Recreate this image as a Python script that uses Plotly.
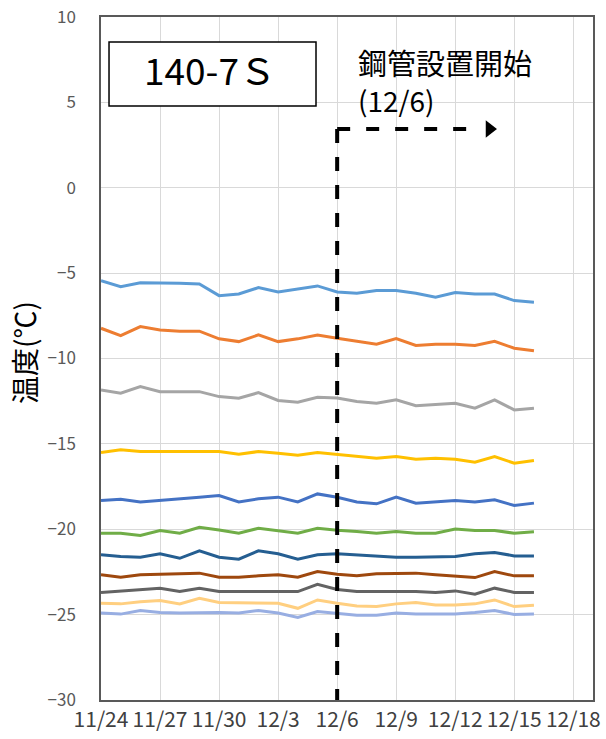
import pandas as pd
import plotly.graph_objects as go

# ---- data ----
start_date = "2023-11-24"
n_days = 23
dates = list(pd.date_range(start_date, periods=n_days, freq="D"))

s1 = [-5.44, -5.79, -5.56, -5.56, -5.60, -5.63, -6.32, -6.22, -5.85, -6.10, -5.92, -5.75,
      -6.10, -6.18, -6.02, -6.02, -6.18, -6.41, -6.14, -6.22, -6.22, -6.61, -6.70]
s2 = [-8.23, -8.66, -8.13, -8.33, -8.40, -8.40, -8.85, -9.01, -8.62, -9.01, -8.85, -8.62,
      -8.82, -8.99, -9.16, -8.83, -9.24, -9.16, -9.16, -9.24, -8.99, -9.40, -9.54]
s3 = [-11.84, -12.03, -11.65, -11.94, -11.94, -11.94, -12.23, -12.33, -12.00, -12.46, -12.56, -12.27,
      -12.32, -12.52, -12.62, -12.42, -12.77, -12.70, -12.62, -12.91, -12.42, -13.01, -12.91]
s4 = [-15.51, -15.35, -15.45, -15.45, -15.45, -15.45, -15.45, -15.60, -15.45, -15.55, -15.66, -15.51,
      -15.61, -15.70, -15.84, -15.74, -15.90, -15.84, -15.90, -16.07, -15.74, -16.13, -15.98]
s5 = [-18.32, -18.24, -18.40, -18.32, -18.24, -18.12, -18.03, -18.40, -18.22, -18.12, -18.40, -17.93,
      -18.13, -18.40, -18.51, -18.12, -18.47, -18.40, -18.32, -18.40, -18.28, -18.61, -18.47]
s6 = [-20.23, -20.23, -20.37, -20.08, -20.23, -19.88, -20.04, -20.23, -19.94, -20.08, -20.23, -19.94,
      -20.06, -20.13, -20.23, -20.13, -20.23, -20.23, -19.99, -20.08, -20.08, -20.23, -20.15]
s7 = [-21.50, -21.60, -21.64, -21.44, -21.70, -21.26, -21.64, -21.75, -21.26, -21.44, -21.75, -21.50,
      -21.44, -21.50, -21.56, -21.64, -21.64, -21.60, -21.60, -21.44, -21.36, -21.56, -21.56]
s8 = [-22.67, -22.81, -22.67, -22.63, -22.63, -22.57, -22.81, -22.81, -22.73, -22.67, -22.81, -22.48,
      -22.63, -22.73, -22.61, -22.57, -22.57, -22.67, -22.73, -22.83, -22.48, -22.73, -22.73]
s9 = [-23.70, -23.61, -23.51, -23.45, -23.65, -23.45, -23.65, -23.65, -23.61, -23.61, -23.65, -23.22,
      -23.53, -23.65, -23.65, -23.65, -23.65, -23.70, -23.61, -23.80, -23.45, -23.70, -23.70]
s10 = [-24.33, -24.37, -24.24, -24.18, -24.37, -24.04, -24.29, -24.29, -24.29, -24.33, -24.63, -24.14,
       -24.33, -24.49, -24.53, -24.37, -24.29, -24.43, -24.43, -24.37, -24.14, -24.53, -24.45]
s11 = [-24.91, -24.97, -24.76, -24.88, -24.91, -24.88, -24.88, -24.91, -24.76, -24.91, -25.17, -24.82,
       -24.91, -25.03, -25.03, -24.91, -24.97, -24.97, -24.97, -24.88, -24.76, -24.99, -24.97]

series = [s1, s2, s3, s4, s5, s6, s7, s8, s9, s10, s11]
colors = ["#5B9BD5", "#ED7D31", "#A5A5A5", "#FFC000", "#4472C4", "#70AD47",
          "#255E91", "#9E480E", "#636363", "#FFCF80", "#98AEE2"]

sensor_label = "140-7Ｓ"
event_text1 = "鋼管設置開始"
event_text2 = "(12/6)"
event_date = "2023-12-06"
arrow_end = "2023-12-13 08:40"
arrow_tip = "2023-12-13 17:45"
arrow_y = 3.44
y_title = "温度(℃)"

x_range = ["2023-11-24", "2023-12-19"]
y_range = [-30, 10]

FONT = "Noto Sans CJK JP"

fig = go.Figure()
for vals, c in zip(series, colors):
    fig.add_trace(go.Scatter(x=dates, y=vals, mode="lines",
                             line=dict(color=c, width=3), showlegend=False,
                             hoverinfo="skip"))

# arrow head
fig.add_trace(go.Scatter(x=[arrow_tip], y=[arrow_y], mode="markers",
                         marker=dict(symbol="triangle-right", size=15, color="black"),
                         showlegend=False, hoverinfo="skip", cliponaxis=False))

# dashed lines
fig.add_shape(type="line", xref="x", yref="y", x0=event_date, x1=event_date,
              y0=arrow_y, y1=y_range[0], line=dict(color="black", width=4, dash="14px,14px"))
fig.add_shape(type="line", xref="x", yref="y", x0=event_date, x1=arrow_end,
              y0=arrow_y, y1=arrow_y, line=dict(color="black", width=4, dash="13px,16px"))

# sensor box
fig.add_shape(type="rect", xref="paper", yref="paper", x0=0.0163, x1=0.437,
              y0=0.8697, y1=0.9634, line=dict(color="black", width=1.5), fillcolor="white")
fig.add_annotation(xref="paper", yref="paper", x=0.2215, y=0.924, text=sensor_label,
                   showarrow=False, font=dict(family=FONT, size=37, color="black"),
                   xanchor="center", yanchor="middle")

fig.add_annotation(xref="paper", yref="paper", x=0.518, y=0.934, text=event_text1,
                   showarrow=False, font=dict(family=FONT, size=29, color="black"),
                   xanchor="left", yanchor="middle")
fig.add_annotation(xref="paper", yref="paper", x=0.518, y=0.8785, text=event_text2,
                   showarrow=False, font=dict(family=FONT, size=28, color="black"),
                   xanchor="left", yanchor="middle")

fig.add_annotation(xref="paper", yref="paper", x=-0.1565, y=0.508, text=y_title,
                   textangle=-90, showarrow=False,
                   font=dict(family=FONT, size=28, color="black"),
                   xanchor="center", yanchor="middle")

fig.update_layout(
    width=606, height=739,
    margin=dict(l=101, r=13, t=17, b=39, autoexpand=False),
    paper_bgcolor="white", plot_bgcolor="white",
    font=dict(family=FONT),
    xaxis=dict(type="date", range=x_range, tick0="2023-11-24", dtick=3 * 86400000,
               tickformat="%-m/%-d", showgrid=True, gridcolor="#D9D9D9", gridwidth=1,
               showline=True, mirror=True, linecolor="#595959", linewidth=1.5,
               automargin=False, ticklabeloverflow="allow",
               ticks="", tickfont=dict(family=FONT, size=21, color="#404040")),
    yaxis=dict(range=y_range, dtick=5, tick0=0, showgrid=True, gridcolor="#D9D9D9",
               gridwidth=1, zeroline=False, showline=True, mirror=True,
               linecolor="#595959", linewidth=1.5, ticks="", automargin=False,
               ticklabelstandoff=20, ticklabeloverflow="allow",
               tickfont=dict(family=FONT, size=17, color="#595959")),
)

# remove the browser's default 8px body margin so the figure fills the window
fig.write_html("out.html", config={"displayModeBar": False},
               post_script="document.body.style.margin='0';")
